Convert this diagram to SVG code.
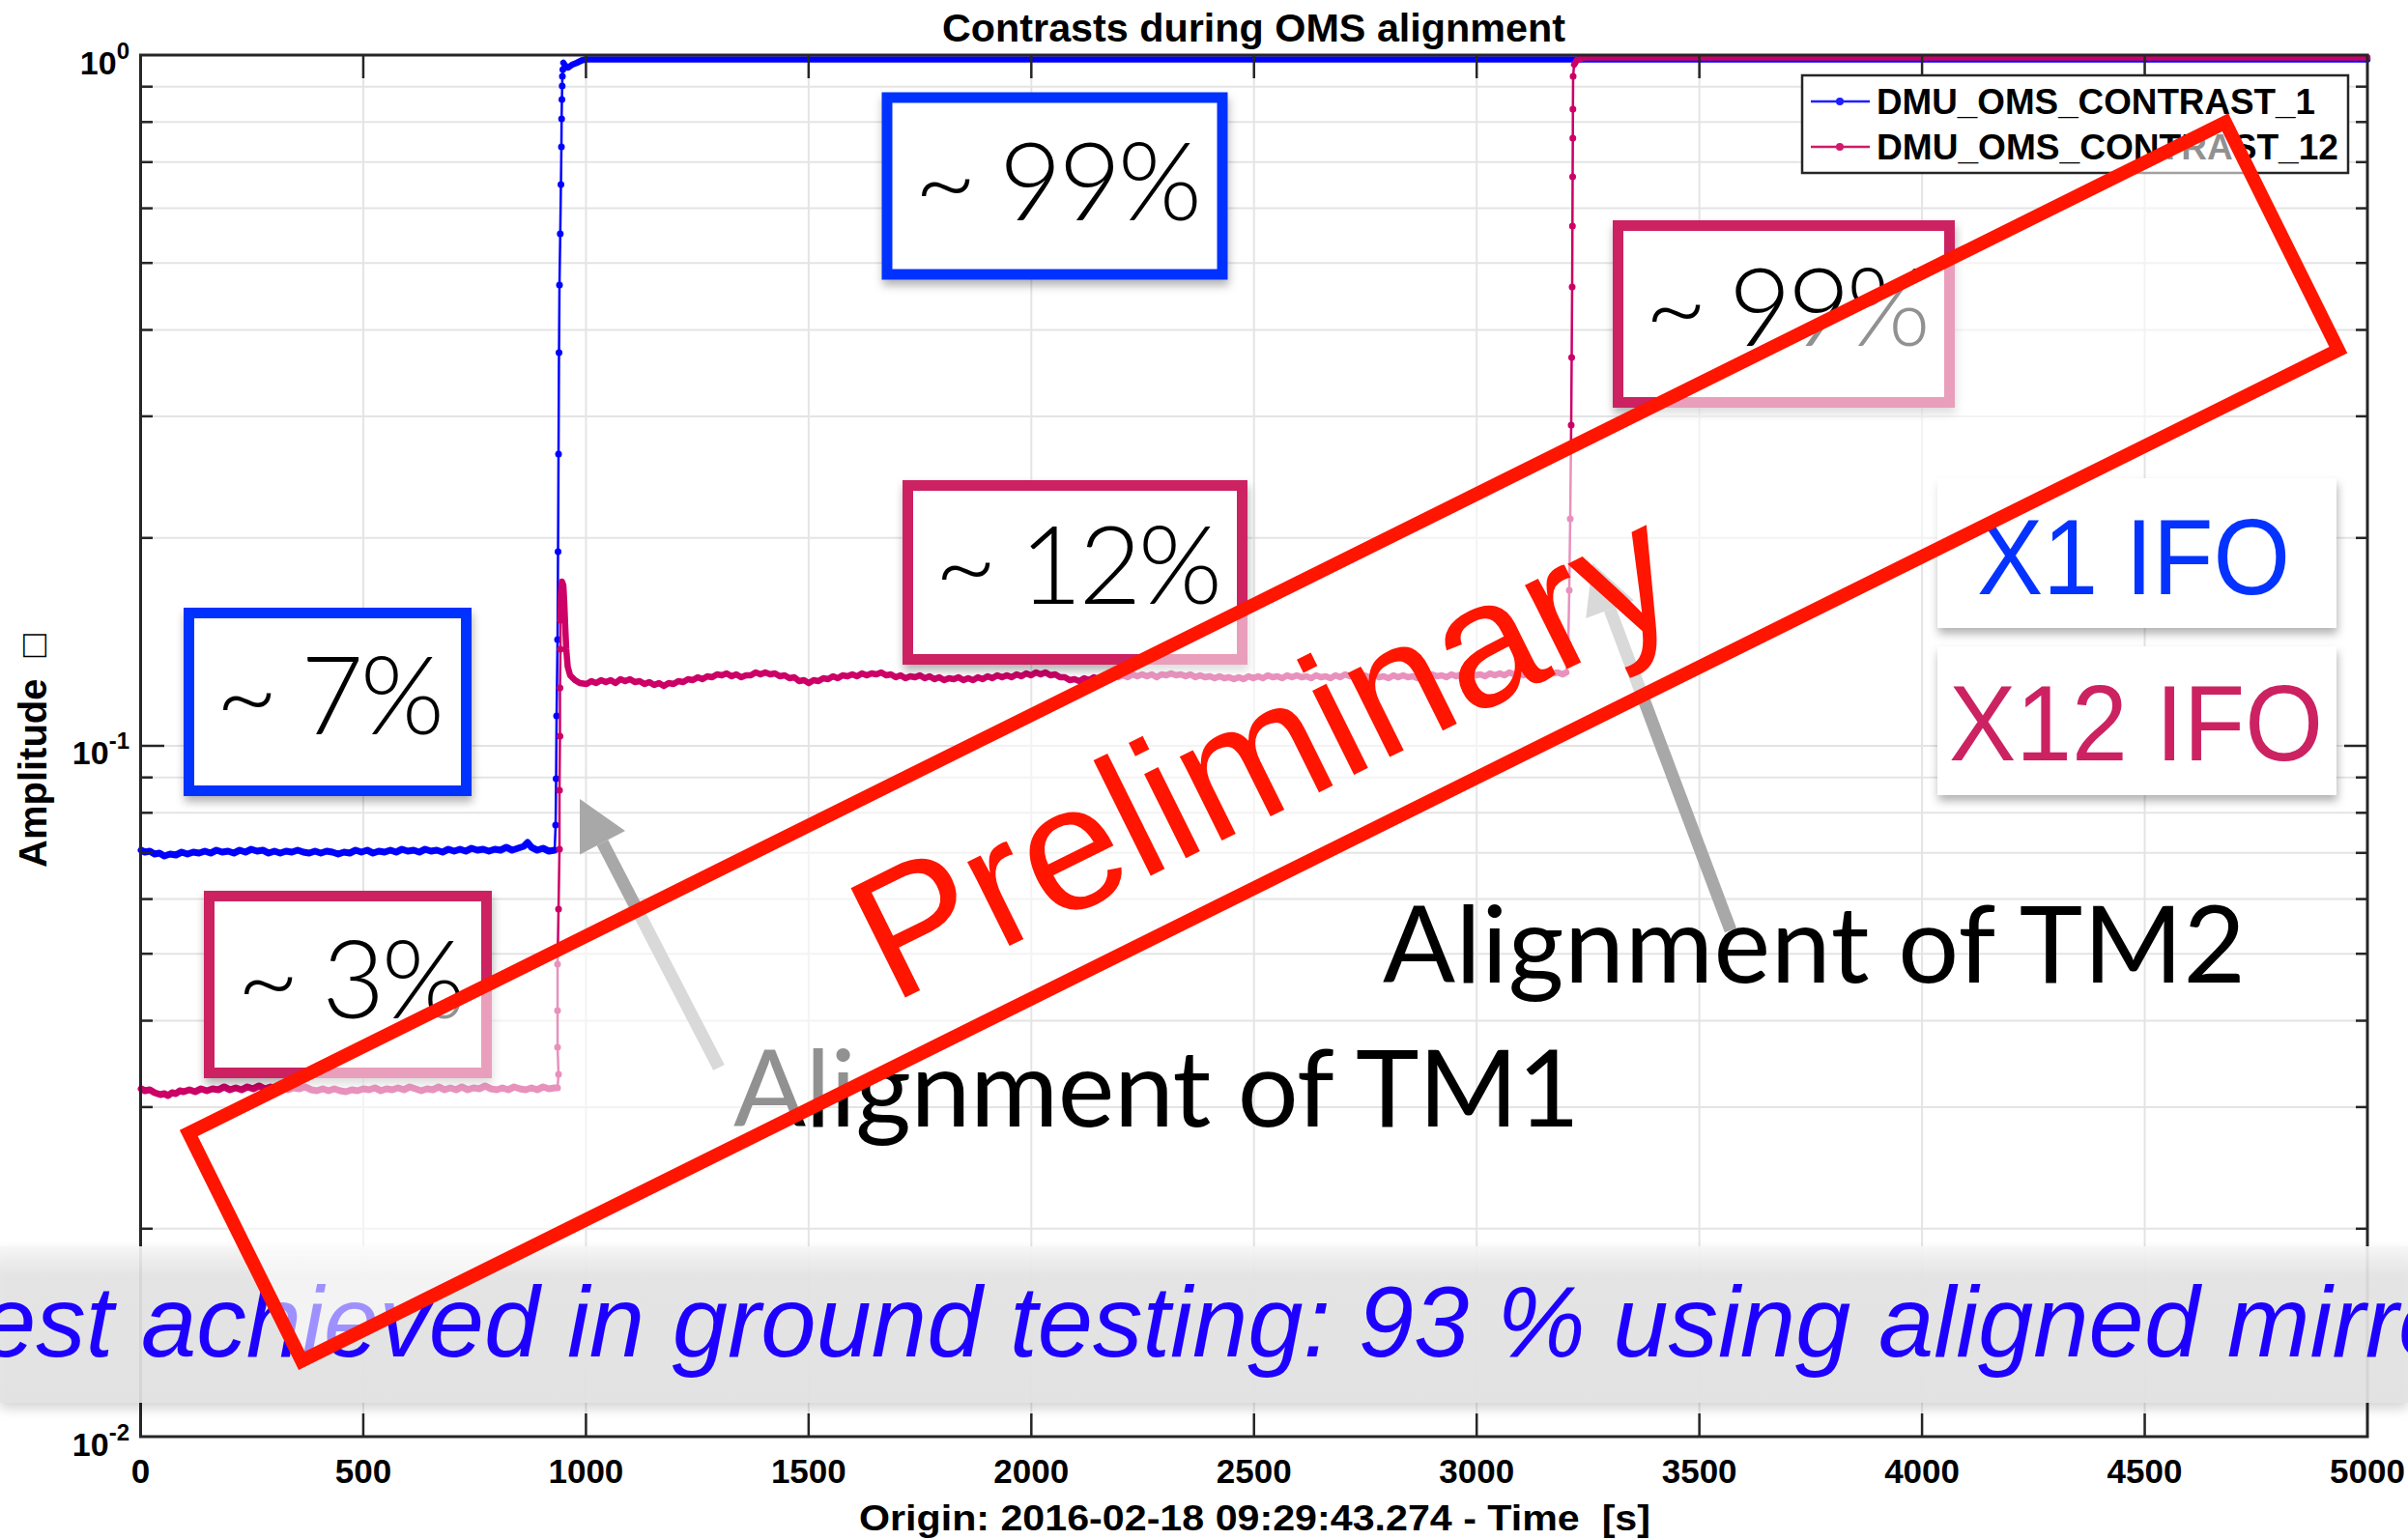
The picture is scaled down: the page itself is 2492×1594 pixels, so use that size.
<svg xmlns="http://www.w3.org/2000/svg" width="2492" height="1594" viewBox="0 0 2492 1594">
<defs>
<style>
.grid{stroke:#e4e4e4;stroke-width:2}
.tick{stroke:#262626;stroke-width:2.5}
.ax{font-family:"Liberation Sans",Arial,sans-serif;font-weight:bold;fill:#000}
.xt{font-size:35px;text-anchor:middle}
.yt{font-size:34px;text-anchor:end}
.pct{font-family:Lato,"Liberation Sans",sans-serif;font-weight:300;font-size:112px;fill:#000}
.ann{font-family:Lato,"Liberation Sans",sans-serif;font-weight:400;font-size:111px;fill:#000}
.ifo{font-family:"Liberation Sans",Arial,sans-serif;font-size:112px}
.bbox{fill:#fff;stroke:#0433ff;stroke-width:11}
.pbox{fill:#fff;stroke:#cc2262;stroke-width:11}
.blue{fill:none;stroke:#0000ff;stroke-linejoin:round;stroke-linecap:round}
.pink{fill:none;stroke:#cc0066;stroke-linejoin:round;stroke-linecap:round}
.bd{fill:#0000ff}
.pd{fill:#cc0066}
.arr{stroke:#a8a8a8;stroke-width:13;fill:none}
.arrh{fill:#a8a8a8}
</style>
<filter id="sh" x="-10%" y="-10%" width="125%" height="135%">
<feDropShadow dx="1" dy="6" stdDeviation="5" flood-color="#000" flood-opacity="0.3"/>
</filter>
<filter id="bsh" x="-5%" y="-20%" width="110%" height="150%">
<feDropShadow dx="0" dy="6" stdDeviation="6" flood-color="#000" flood-opacity="0.18"/>
</filter>
<linearGradient id="band" x1="0" y1="0" x2="0" y2="1">
<stop offset="0" stop-color="#f6f6f6"/>
<stop offset="0.18" stop-color="#e4e4e4"/>
<stop offset="1" stop-color="#e2e2e2"/>
</linearGradient>
</defs>
<rect width="2492" height="1594" fill="#fff"/>

<g id="grid">
<g class="grid">
<line x1="375.95" y1="57" x2="375.95" y2="1487"/><line x1="606.4" y1="57" x2="606.4" y2="1487"/><line x1="836.85" y1="57" x2="836.85" y2="1487"/><line x1="1067.3" y1="57" x2="1067.3" y2="1487"/><line x1="1297.75" y1="57" x2="1297.75" y2="1487"/><line x1="1528.2" y1="57" x2="1528.2" y2="1487"/><line x1="1758.65" y1="57" x2="1758.65" y2="1487"/><line x1="1989.1" y1="57" x2="1989.1" y2="1487"/><line x1="2219.55" y1="57" x2="2219.55" y2="1487"/>
<line x1="145.5" y1="89.7" x2="2450" y2="89.7"/><line x1="145.5" y1="126.3" x2="2450" y2="126.3"/><line x1="145.5" y1="167.8" x2="2450" y2="167.8"/><line x1="145.5" y1="215.6" x2="2450" y2="215.6"/><line x1="145.5" y1="272.2" x2="2450" y2="272.2"/><line x1="145.5" y1="341.5" x2="2450" y2="341.5"/><line x1="145.5" y1="430.9" x2="2450" y2="430.9"/><line x1="145.5" y1="556.8" x2="2450" y2="556.8"/><line x1="145.5" y1="772" x2="2450" y2="772"/>
<line x1="145.5" y1="804.7" x2="2450" y2="804.7"/><line x1="145.5" y1="841.3" x2="2450" y2="841.3"/><line x1="145.5" y1="882.8" x2="2450" y2="882.8"/><line x1="145.5" y1="930.6" x2="2450" y2="930.6"/><line x1="145.5" y1="987.2" x2="2450" y2="987.2"/><line x1="145.5" y1="1056.5" x2="2450" y2="1056.5"/><line x1="145.5" y1="1145.9" x2="2450" y2="1145.9"/><line x1="145.5" y1="1271.8" x2="2450" y2="1271.8"/>
</g>
</g>

<g id="data">
<polyline class="blue" stroke-width="7" points="146,880 150,882 155,881 160,884 165,883 170,886 176,884 182,885 188,882 194,884 200,882 206,883 212,881 218,883 224,880 230,882 236,881 242,883 248,880 254,882 260,879 266,881 272,880 278,883 284,881 290,883 296,881 302,882 308,880 314,882 320,883 326,881 332,883 338,881 344,882 350,884 356,882 362,883 368,880 374,882 380,880 386,883 392,881 398,882 404,880 410,882 416,879 422,881 428,880 434,882 440,879 446,881 452,880 458,882 464,879 470,881 476,879 482,881 488,878 494,880 500,879 506,881 512,879 518,880 524,877 530,880 536,878 542,876 546,872 550,877 556,880 562,878 568,881 574,880"/>
<polyline class="blue" stroke-width="2.5" points="574,880 575,854 575.5,806 576,741 577,662 577.5,571 578,470 578.5,365 579,295 579.8,242 580.5,191 581,152 581.2,123 581.5,103 581.8,89 582,79 582.5,72 583,65"/>
<polyline class="blue" stroke-width="6.5" points="583,65 585,68 588,70 592,67 597,65 602,62.5 606,61.5 2450,61.5"/>
<g class="bd">
<circle cx="575" cy="854" r="3.5"/><circle cx="575.5" cy="806" r="3.5"/><circle cx="576" cy="741" r="3.5"/><circle cx="577" cy="662" r="3.5"/><circle cx="577.5" cy="571" r="3.5"/><circle cx="578" cy="470" r="3.5"/><circle cx="578.5" cy="365" r="3.5"/><circle cx="579" cy="295" r="3.5"/><circle cx="579.8" cy="242" r="3.5"/><circle cx="580.5" cy="191" r="3.5"/><circle cx="581" cy="152" r="3.5"/><circle cx="581.2" cy="123" r="3.5"/><circle cx="581.5" cy="103" r="3.5"/><circle cx="581.8" cy="89" r="3.5"/><circle cx="582" cy="79" r="3.5"/><circle cx="582.5" cy="72" r="3.5"/>
</g>
<polyline class="pink" stroke-width="7" points="146,1127 150,1129 155,1128 160,1131 166,1133 170,1132 174,1134 178,1131 182,1132 186,1129 190,1130 196,1128 202,1130 208,1127 214,1129 220,1127 226,1128 232,1125 238,1128 244,1126 250,1128 256,1125 262,1127 268,1124 274,1127 280,1125 286,1127 292,1126 298,1128 304,1126 310,1127 316,1125 322,1128 328,1129 334,1127 340,1129 346,1127 352,1129 358,1130 364,1128 370,1129 376,1127 382,1128 388,1126 394,1129 400,1127 406,1128 412,1126 418,1128 424,1125 430,1127 436,1129 442,1127 448,1128 454,1125 460,1128 466,1126 472,1128 478,1125 484,1128 490,1126 496,1127 502,1124 508,1127 514,1128 520,1126 526,1128 532,1125 538,1127 544,1128 550,1126 556,1128 562,1125 568,1127 574,1126 577,1126"/>
<polyline class="pink" stroke-width="2.5" points="577,1126 578,1112 577,1084 577,1046 577,998 578,941 579,879 579,818 579.5,762 579.5,712 580,672 580,642"/>
<polyline class="pink" stroke-width="6.5" points="580,642 580.5,615 581.5,602 583,606 584,625 585,650 586,672 587.5,690 590,699 595,704 600,707 607,708 612,705 617,707 622,704 627,706 632,704 637,707 642,703 647,705 652,703 657,706 662,705 667,708 672,706 677,709 682,707 687,710 692,707 697,708 702,705 707,706 712,703 717,704 722,701 727,703 732,700 737,701 742,698 747,699 752,697 757,700 762,698 767,701 772,699 777,699 782,696 787,698 792,696 797,698 802,697 807,700 812,699 817,702 822,701 827,705 832,704 837,707 842,704 847,705 852,702 857,703 862,700 867,702 872,699 877,700 882,698 887,700 892,697 897,699 902,697 907,698 912,696 917,699 922,698 927,701 932,699 937,702 942,700 947,701 952,699 957,702 962,700 967,703 972,701 977,704 982,702 987,703 992,701 997,704 1002,702 1007,704 1012,701 1017,703 1022,700 1027,702 1032,699 1037,701 1042,699 1047,701 1052,698 1057,700 1062,697 1067,699 1072,696 1077,698 1082,696 1087,699 1092,698 1097,701 1102,701 1107,704 1112,703 1117,705 1122,702 1127,704 1132,701 1137,703 1142,700 1147,702 1152,699 1157,701 1162,699 1167,701 1172,698 1177,700 1182,698 1187,700 1192,698 1197,701 1202,698 1207,699 1212,697 1217,699 1222,698 1227,700 1232,698 1237,701 1242,699 1247,701 1252,700 1257,702 1262,700 1267,702 1272,701 1277,703 1282,701 1287,703 1292,700 1297,702 1302,700 1307,702 1312,699 1317,701 1322,700 1327,702 1332,699 1337,701 1342,699 1347,701 1352,700 1357,702 1362,699 1367,701 1372,700 1377,702 1382,699 1387,701 1392,698 1397,700 1402,698 1407,700 1412,699 1417,701 1422,699 1427,701 1432,700 1437,702 1442,699 1447,701 1452,699 1457,701 1462,700 1467,702 1472,699 1477,701 1482,698 1487,700 1492,699 1497,701 1502,698 1507,700 1512,698 1517,700 1522,697 1527,699 1532,698 1537,700 1542,697 1547,699 1552,697 1557,699 1562,696 1567,698 1572,697 1577,699 1582,696 1587,698 1592,696 1597,698 1602,695 1607,697 1612,696 1617,698 1621,696"/>
<polyline class="pink" stroke-width="2.5" points="1621,696 1623,667 1624,611 1625,537 1626,440 1626.5,370 1627,297 1627.3,234 1627.5,183 1627.7,143 1627.8,113 1628,79 1629,67"/>
<polyline class="pink" stroke-width="6.5" points="1629,67 1632,62 1636,61 1640,59.5 2450,59.5"/>
<g class="pd">
<circle cx="578" cy="1112" r="3.5"/><circle cx="577" cy="1084" r="3.5"/><circle cx="577" cy="1046" r="3.5"/><circle cx="577" cy="998" r="3.5"/><circle cx="578" cy="941" r="3.5"/><circle cx="579" cy="879" r="3.5"/><circle cx="579" cy="818" r="3.5"/><circle cx="579.5" cy="762" r="3.5"/><circle cx="579.5" cy="712" r="3.5"/><circle cx="580" cy="672" r="3.5"/><circle cx="580" cy="642" r="3.5"/>
<circle cx="1623" cy="667" r="3.5"/><circle cx="1624" cy="611" r="3.5"/><circle cx="1625" cy="537" r="3.5"/><circle cx="1626" cy="440" r="3.5"/><circle cx="1626.5" cy="370" r="3.5"/><circle cx="1627" cy="297" r="3.5"/><circle cx="1627.3" cy="234" r="3.5"/><circle cx="1627.5" cy="183" r="3.5"/><circle cx="1627.7" cy="143" r="3.5"/><circle cx="1627.8" cy="113" r="3.5"/><circle cx="1628" cy="79" r="3.5"/>
</g>
</g>

<g id="axes">
<rect x="145.5" y="57" width="2304.5" height="1430" fill="none" stroke="#262626" stroke-width="3"/>
<g class="tick">
<line x1="375.95" y1="57" x2="375.95" y2="81"/><line x1="606.4" y1="57" x2="606.4" y2="81"/><line x1="836.85" y1="57" x2="836.85" y2="81"/><line x1="1067.3" y1="57" x2="1067.3" y2="81"/><line x1="1297.75" y1="57" x2="1297.75" y2="81"/><line x1="1528.2" y1="57" x2="1528.2" y2="81"/><line x1="1758.65" y1="57" x2="1758.65" y2="81"/><line x1="1989.1" y1="57" x2="1989.1" y2="81"/><line x1="2219.55" y1="57" x2="2219.55" y2="81"/>
<line x1="375.95" y1="1463" x2="375.95" y2="1487"/><line x1="606.4" y1="1463" x2="606.4" y2="1487"/><line x1="836.85" y1="1463" x2="836.85" y2="1487"/><line x1="1067.3" y1="1463" x2="1067.3" y2="1487"/><line x1="1297.75" y1="1463" x2="1297.75" y2="1487"/><line x1="1528.2" y1="1463" x2="1528.2" y2="1487"/><line x1="1758.65" y1="1463" x2="1758.65" y2="1487"/><line x1="1989.1" y1="1463" x2="1989.1" y2="1487"/><line x1="2219.55" y1="1463" x2="2219.55" y2="1487"/>
<line x1="145.5" y1="772" x2="170" y2="772"/><line x1="2450" y1="772" x2="2426" y2="772"/>
<line x1="145.5" y1="89.7" x2="158" y2="89.7"/><line x1="145.5" y1="126.3" x2="158" y2="126.3"/><line x1="145.5" y1="167.8" x2="158" y2="167.8"/><line x1="145.5" y1="215.6" x2="158" y2="215.6"/><line x1="145.5" y1="272.2" x2="158" y2="272.2"/><line x1="145.5" y1="341.5" x2="158" y2="341.5"/><line x1="145.5" y1="430.9" x2="158" y2="430.9"/><line x1="145.5" y1="556.8" x2="158" y2="556.8"/>
<line x1="145.5" y1="804.7" x2="158" y2="804.7"/><line x1="145.5" y1="841.3" x2="158" y2="841.3"/><line x1="145.5" y1="882.8" x2="158" y2="882.8"/><line x1="145.5" y1="930.6" x2="158" y2="930.6"/><line x1="145.5" y1="987.2" x2="158" y2="987.2"/><line x1="145.5" y1="1056.5" x2="158" y2="1056.5"/><line x1="145.5" y1="1145.9" x2="158" y2="1145.9"/><line x1="145.5" y1="1271.8" x2="158" y2="1271.8"/>
<line x1="2450" y1="89.7" x2="2438" y2="89.7"/><line x1="2450" y1="126.3" x2="2438" y2="126.3"/><line x1="2450" y1="167.8" x2="2438" y2="167.8"/><line x1="2450" y1="215.6" x2="2438" y2="215.6"/><line x1="2450" y1="272.2" x2="2438" y2="272.2"/><line x1="2450" y1="341.5" x2="2438" y2="341.5"/><line x1="2450" y1="430.9" x2="2438" y2="430.9"/><line x1="2450" y1="556.8" x2="2438" y2="556.8"/>
<line x1="2450" y1="804.7" x2="2438" y2="804.7"/><line x1="2450" y1="841.3" x2="2438" y2="841.3"/><line x1="2450" y1="882.8" x2="2438" y2="882.8"/><line x1="2450" y1="930.6" x2="2438" y2="930.6"/><line x1="2450" y1="987.2" x2="2438" y2="987.2"/><line x1="2450" y1="1056.5" x2="2438" y2="1056.5"/><line x1="2450" y1="1145.9" x2="2438" y2="1145.9"/><line x1="2450" y1="1271.8" x2="2438" y2="1271.8"/>
</g>
<g class="ax xt">
<text x="145.5" y="1535">0</text><text x="375.95" y="1535">500</text><text x="606.4" y="1535">1000</text><text x="836.85" y="1535">1500</text><text x="1067.3" y="1535">2000</text><text x="1297.75" y="1535">2500</text><text x="1528.2" y="1535">3000</text><text x="1758.65" y="1535">3500</text><text x="1989.1" y="1535">4000</text><text x="2219.55" y="1535">4500</text><text x="2450" y="1535">5000</text>
</g>
<g class="ax yt">
<text x="134" y="77">10<tspan dy="-16" font-size="24">0</tspan></text>
<text x="134" y="791">10<tspan dy="-16" font-size="24">-1</tspan></text>
<text x="134" y="1507">10<tspan dy="-16" font-size="24">-2</tspan></text>
</g>
<text class="ax" x="975" y="43" font-size="40" textLength="645" lengthAdjust="spacingAndGlyphs">Contrasts during OMS alignment</text>
<text class="ax" x="889" y="1584" font-size="37" textLength="819" lengthAdjust="spacingAndGlyphs" xml:space="preserve">Origin: 2016-02-18 09:29:43.274 - Time  [s]</text>
<text class="ax" transform="translate(48,898) rotate(-90)" font-size="40" xml:space="preserve">Amplitude  □</text>
</g>

<g id="legend">
<rect x="1865" y="78" width="565" height="101" fill="#fff" stroke="#262626" stroke-width="2.5"/>
<line x1="1874" y1="105" x2="1935" y2="105" stroke="#1f1fff" stroke-width="2.5"/>
<circle cx="1904" cy="105" r="4" fill="#1f1fff"/>
<text class="ax" x="1942" y="118" font-size="36" textLength="454" lengthAdjust="spacingAndGlyphs">DMU_OMS_CONTRAST_1</text>
<line x1="1874" y1="152" x2="1935" y2="152" stroke="#d01a6a" stroke-width="2.5"/>
<circle cx="1904" cy="152" r="4" fill="#d01a6a"/>
<text class="ax" x="1942" y="165" font-size="36" textLength="478" lengthAdjust="spacingAndGlyphs">DMU_OMS_CONTRAST_12</text>
</g>

<g id="box-blue-99">
<rect class="bbox" x="918" y="101" width="347" height="183" filter="url(#sh)"/>
<text class="pct" x="946" y="228" textLength="298" lengthAdjust="spacing">~ 99%</text>
</g>
<g id="box-blue-7">
<rect class="bbox" x="195.5" y="634.5" width="287" height="184" filter="url(#sh)"/>
<text class="pct" x="223" y="760" textLength="237" lengthAdjust="spacing">~ 7%</text>
</g>
<g id="box-pink-3">
<rect class="pbox" x="216.5" y="927.5" width="287" height="183" filter="url(#sh)"/>
<text class="pct" x="245" y="1054" textLength="237" lengthAdjust="spacing">~ 3%</text>
</g>
<g id="box-pink-12">
<rect class="pbox" x="939.5" y="502.5" width="346" height="180" filter="url(#sh)"/>
<text class="pct" x="967" y="625" textLength="298" lengthAdjust="spacing">~ 12%</text>
</g>
<g id="box-pink-99">
<rect class="pbox" x="1674.5" y="233.5" width="343" height="183" filter="url(#sh)"/>
<text class="pct" x="1702" y="358" textLength="296" lengthAdjust="spacing">~ 99%</text>
</g>
<g id="label-x1">
<rect x="2005" y="495" width="413" height="155" fill="#fff" filter="url(#sh)"/>
<text class="ifo" x="2046" y="615" fill="#0433ff" textLength="324" lengthAdjust="spacingAndGlyphs">X1 IFO</text>
</g>
<g id="label-x12">
<rect x="2005" y="669" width="413" height="154" fill="#fff" filter="url(#sh)"/>
<text class="ifo" x="2017" y="787" fill="#cc2262" textLength="387" lengthAdjust="spacingAndGlyphs">X12 IFO</text>
</g>

<g id="connectors">
<line class="arr" x1="744" y1="1105" x2="623.5" y2="872.3"/>
<polygon class="arrh" points="600,827 647,860.1 600,884.5"/>
<line class="arr" x1="1791" y1="963" x2="1666" y2="630.7"/>
<polygon class="arrh" points="1648,583 1690.8,621.4 1641.2,640"/>
</g>

<g id="label-tm1"><text class="ann" x="759" y="1166" textLength="876" lengthAdjust="spacing">Alignment of TM1</text></g>
<g id="label-tm2"><text class="ann" x="1431" y="1017" textLength="893" lengthAdjust="spacing">Alignment of TM2</text></g>

<g id="banner">
<rect x="0" y="1290" width="2492" height="162" fill="url(#band)" fill-opacity="0.92" filter="url(#bsh)"/>
<text x="-20" y="1404" font-family="'Liberation Sans',Arial,sans-serif" font-style="italic" font-size="103" fill="#1e00ff">est achieved in ground testing: 93 % using aligned mirro</text>
</g>

<g id="preliminary" transform="translate(1307.6,767.6) rotate(-26.4)">
<rect x="-1176.5" y="-131.5" width="2353" height="263" fill="#fff" fill-opacity="0.57" stroke="#ff1500" stroke-width="14"/>
<text x="-5" y="72.5" text-anchor="middle" font-family="'Liberation Sans',Arial,sans-serif" font-size="184" fill="#ff1500">Preliminary</text>
</g>
</svg>
